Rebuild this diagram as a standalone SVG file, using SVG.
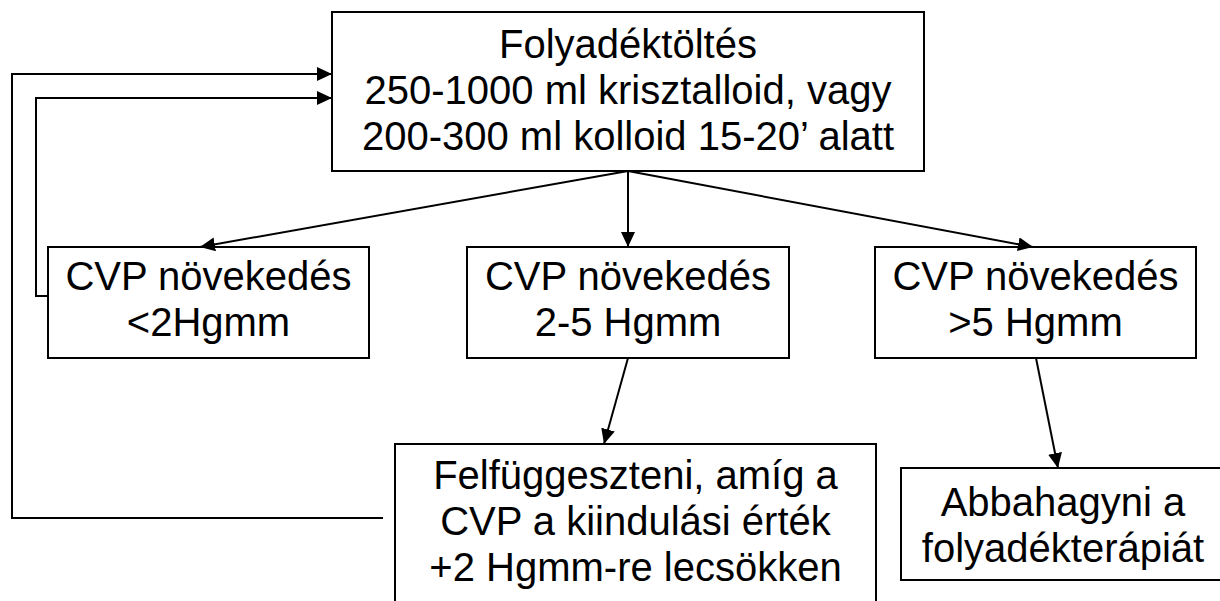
<svg xmlns="http://www.w3.org/2000/svg" width="1220" height="601" viewBox="0 0 1220 601">
<defs>
<style>
.box{fill:#fff;stroke:#000;stroke-width:2}
.t{font-family:"Liberation Sans",Arial,sans-serif;font-size:40px;fill:#000;text-anchor:middle}
.c{fill:none;stroke:#000;stroke-width:2}
</style>
<marker id="ah" viewBox="0 0 15 14" refX="15" refY="7" markerWidth="15" markerHeight="14" markerUnits="userSpaceOnUse" orient="auto">
<path d="M0,0 L15,7 L0,14 Z" fill="#000"/>
</marker>
</defs>
<rect width="1220" height="601" fill="#fff"/>
<g id="n-top">
<rect class="box" x="332" y="12" width="592" height="159"/>
<text class="t" x="628" y="58">Folyadéktöltés</text>
<text class="t" x="628" y="104">250-1000 ml krisztalloid, vagy</text>
<text class="t" x="628" y="150">200-300 ml kolloid 15-20’ alatt</text>
</g>
<g id="n-left">
<rect class="box" x="48" y="247" width="321" height="111"/>
<text class="t" x="208.5" y="290">CVP növekedés</text>
<text class="t" x="208.5" y="336">&lt;2Hgmm</text>
</g>
<g id="n-mid">
<rect class="box" x="467" y="247" width="322" height="111"/>
<text class="t" x="628" y="290">CVP növekedés</text>
<text class="t" x="628" y="336">2-5 Hgmm</text>
</g>
<g id="n-right">
<rect class="box" x="875" y="247" width="321" height="111"/>
<text class="t" x="1035.5" y="290">CVP növekedés</text>
<text class="t" x="1035.5" y="336">&gt;5 Hgmm</text>
</g>
<g id="n-susp">
<rect class="box" x="395" y="444" width="481" height="170"/>
<text class="t" x="635.5" y="489">Felfüggeszteni, amíg a</text>
<text class="t" x="635.5" y="535">CVP a kiindulási érték</text>
<text class="t" x="635.5" y="581">+2 Hgmm-re lecsökken</text>
</g>
<g id="n-stop">
<rect class="box" x="901" y="468" width="330" height="112"/>
<text class="t" x="1063" y="516">Abbahagyni a</text>
<text class="t" x="1063" y="562">folyadékterápiát</text>
</g>
<g id="connectors">
<line class="c" x1="628" y1="171" x2="200" y2="247" marker-end="url(#ah)"/>
<line class="c" x1="628" y1="171" x2="628" y2="247" marker-end="url(#ah)"/>
<line class="c" x1="628" y1="171" x2="1033" y2="247" marker-end="url(#ah)"/>
<line class="c" x1="628" y1="358" x2="604" y2="444" marker-end="url(#ah)"/>
<line class="c" x1="1036" y1="358" x2="1058" y2="468" marker-end="url(#ah)"/>
<polyline class="c" points="48,296 36,296 36,98 332,98" marker-end="url(#ah)"/>
<polyline class="c" points="383,518 12,518 12,74 332,74" marker-end="url(#ah)"/>
</g>
</svg>
